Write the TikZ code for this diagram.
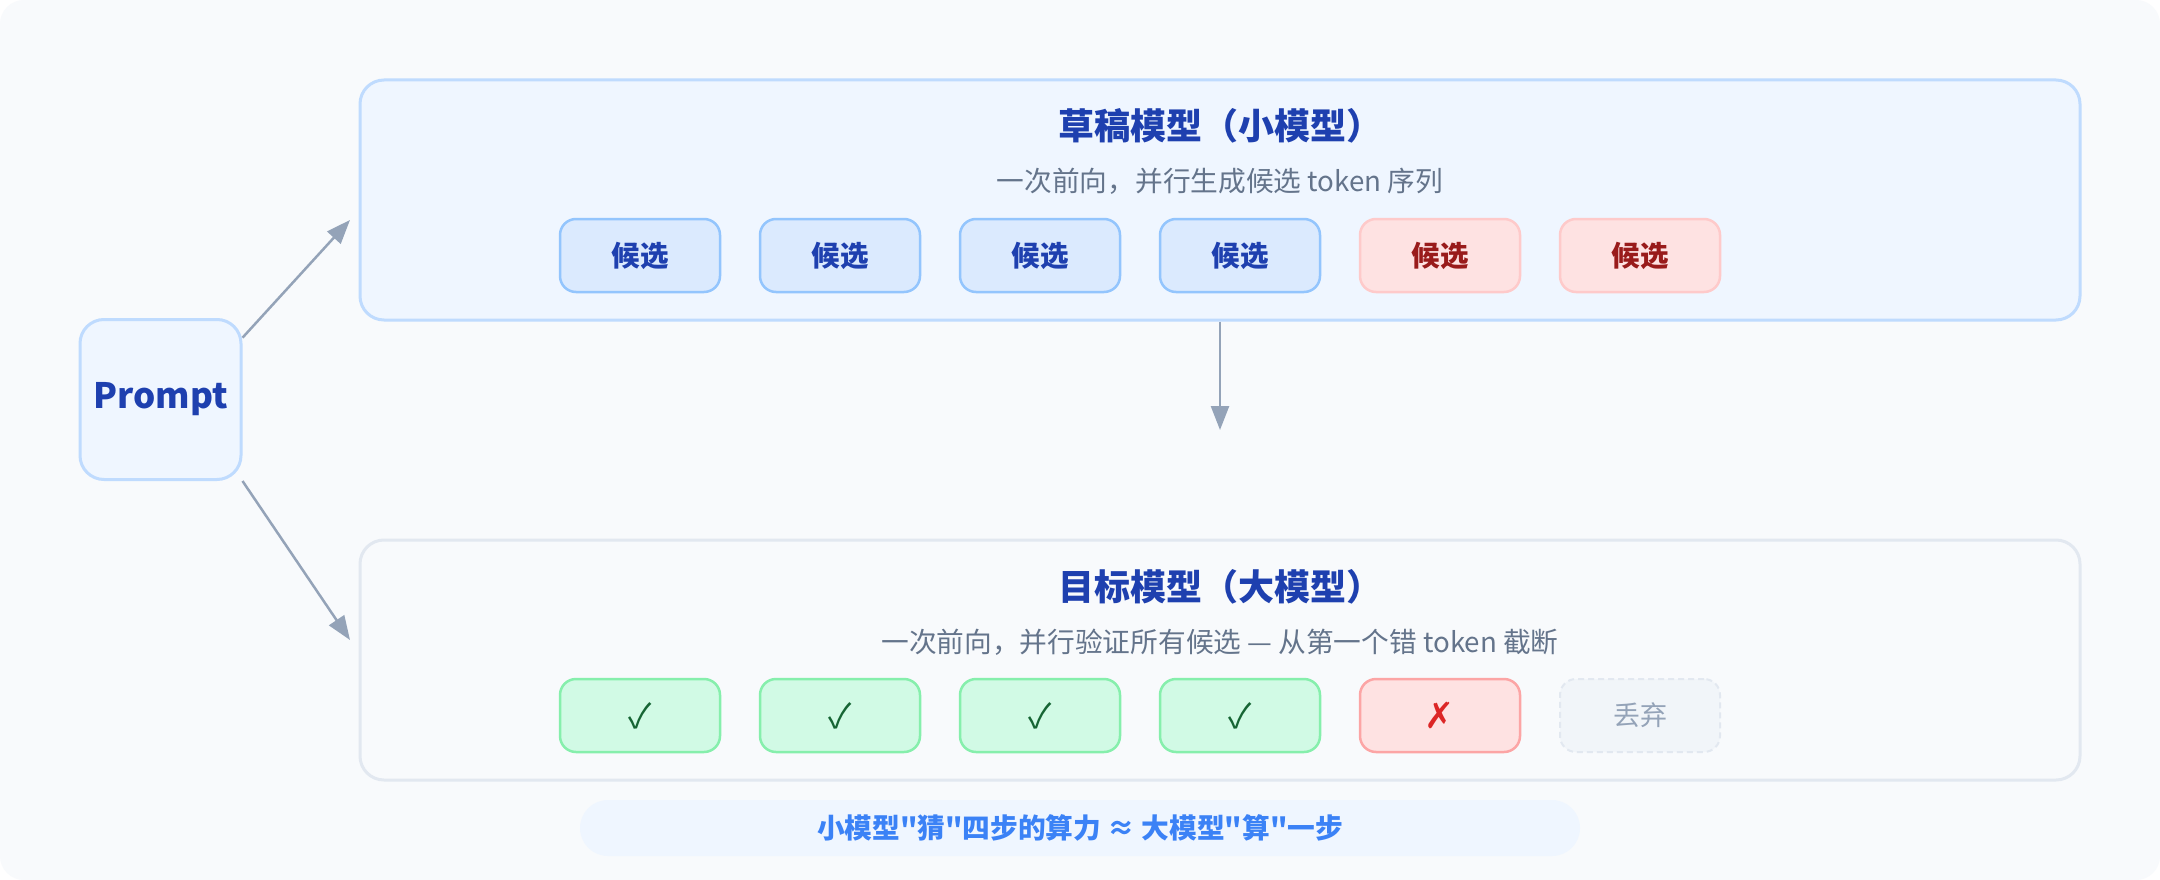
\documentclass[tikz,border=0pt]{standalone}
\usepackage{fontspec}
\setmainfont{Noto Sans CJK SC}[Ligatures=TeXOff]
\newfontfamily\symfont{DejaVu Sans}
\usetikzlibrary{arrows.meta}
\definecolor{bgc}{HTML}{F8FAFC}
\definecolor{bluefill}{HTML}{EFF6FF}
\definecolor{bluestroke}{HTML}{BFDBFE}
\definecolor{candfill}{HTML}{DBEAFE}
\definecolor{candstroke}{HTML}{93C5FD}
\definecolor{darkblue}{HTML}{1E40AF}
\definecolor{redfill}{HTML}{FEE2E2}
\definecolor{redstroke}{HTML}{FECACA}
\definecolor{redstrong}{HTML}{FCA5A5}
\definecolor{redtext}{HTML}{991B1B}
\definecolor{xred}{HTML}{DC2626}
\definecolor{greenfill}{HTML}{D1FAE5}
\definecolor{greenstroke}{HTML}{86EFAC}
\definecolor{greentext}{HTML}{166534}
\definecolor{grayfill}{HTML}{F1F5F9}
\definecolor{graystroke}{HTML}{E2E8F0}
\definecolor{graytext}{HTML}{94A3B8}
\definecolor{subtext}{HTML}{64748B}
\definecolor{arrowc}{HTML}{94A3B8}
\definecolor{notetext}{HTML}{3B82F6}
\tikzset{
  panel/.style={rounded corners=24pt, line width=3pt, inner sep=0pt},
  candbase/.style={rounded corners=16pt, line width=2.5pt, minimum width=160pt, minimum height=73pt, inner sep=0pt},
  candblue/.style={candbase, fill=candfill, draw=candstroke, text=darkblue, font=\fontsize{28.5}{32}\selectfont\bfseries},
  candred/.style={candbase, fill=redfill, draw=redstroke, text=redtext, font=\fontsize{28.5}{32}\selectfont\bfseries},
  okbox/.style={candbase, fill=greenfill, draw=greenstroke, text=greentext, font=\fontsize{34}{40}\selectfont},
  badbox/.style={candbase, fill=redfill, draw=redstrong, text=xred, font=\symfont\fontsize{36}{40}\selectfont},
  dropbox/.style={candbase, fill=grayfill, draw=graystroke, dashed, dash pattern=on 6pt off 4pt, line width=2pt, text=graytext, font=\fontsize{27}{32}\selectfont},
  ttl/.style={text=darkblue, font=\fontsize{36}{40}\selectfont\bfseries},
  sub/.style={text=subtext, font=\fontsize{27.7}{32}\selectfont},
  conn/.style={draw=arrowc, line width=2.5pt, -{Triangle[length=24pt,width=18pt]}}
}
\begin{document}
\begin{tikzpicture}[x=1pt,y=-1pt]
\useasboundingbox (0,0) rectangle (2160,880);
\fill[white] (0,0) rectangle (2160,880);
\fill[bgc, rounded corners=24pt] (0,0) rectangle (2160,880);

% Prompt
\node[panel, fill=bluefill, draw=bluestroke, minimum width=161pt, minimum height=160pt, text=darkblue, font=\fontsize{35}{40}\selectfont\bfseries] (prompt) at (160.5,399.5) {Prompt};

% Draft panel
\node[panel, fill=bluefill, draw=bluestroke, minimum width=1720pt, minimum height=240pt] (draft) at (1220,200) {};
\node[ttl] (dtitle) at (1220,126) {草稿模型（小模型）};
\node[sub] (dsub) at (1220,181) {一次前向，并行生成候选 token 序列};
\node[candblue] (c1) at (640,255.5) {候选};
\node[candblue] (c2) at (840,255.5) {候选};
\node[candblue] (c3) at (1040,255.5) {候选};
\node[candblue] (c4) at (1240,255.5) {候选};
\node[candred] (c5) at (1440,255.5) {候选};
\node[candred] (c6) at (1640,255.5) {候选};

% Target panel
\node[panel, fill=bgc, draw=graystroke, minimum width=1720pt, minimum height=240pt] (target) at (1220,660) {};
\node[ttl] (ttitle) at (1220,587) {目标模型（大模型）};
\node[sub] (tsub) at (1220,642) {一次前向，并行验证所有候选 — 从第一个错 token 截断};
\node[okbox] (v1) at (640,715.5) {✓};
\node[okbox] (v2) at (840,715.5) {✓};
\node[okbox] (v3) at (1040,715.5) {✓};
\node[okbox] (v4) at (1240,715.5) {✓};
\node[badbox] (v5) at (1440,715.5) {✗};
\node[dropbox] (v6) at (1640,715.5) {丢弃};

% Note
\node[fill=bluefill, rounded corners=28pt, minimum width=1000pt, minimum height=56pt, inner sep=0pt, text=notetext, font=\fontsize{27.7}{30}\selectfont\bfseries] (note) at (1080,828) {小模型"猜"四步的算力 ≈ 大模型"算"一步};

% Connectors
\coordinate (a1) at (350,220);
\coordinate (a2) at (350,640);
\coordinate (a3) at (1220,430);
\draw[conn] (prompt.37) -- (a1);
\draw[conn] (prompt.south east) -- (a2);
\draw[conn] (draft.south) -- (a3);
\end{tikzpicture}
\end{document}
